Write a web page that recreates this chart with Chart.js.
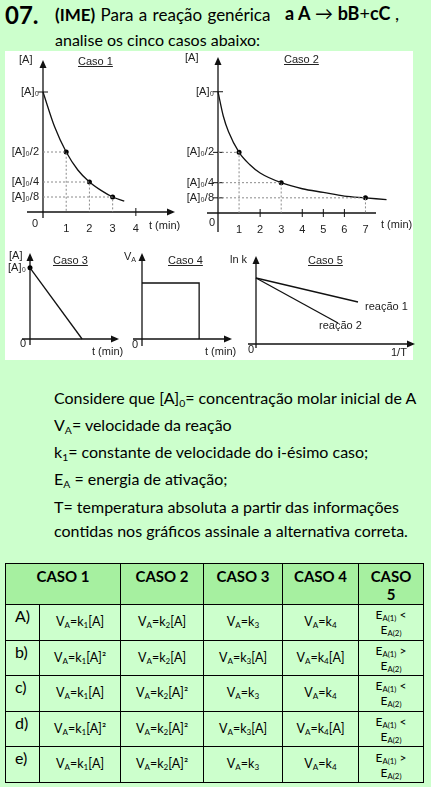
<!DOCTYPE html>
<html lang="pt">
<head>
<meta charset="UTF-8">
<title>Questão 07 (IME) - cinética química</title>
<script src="https://cdn.jsdelivr.net/npm/chart.js"></script>
<style>
  body { margin: 0; background: #ccffcc; font-family: 'Lato', sans-serif; color: #000; }
  #pagina { position: relative; width: 431px; height: 787px; overflow: hidden; }
  .abs { position: absolute; white-space: nowrap; line-height: 1; }
  #scan { position: absolute; left: 5px; top: 51px; width: 408px; height: 309px; background: #fff; }
  .lbl { position: absolute; white-space: nowrap; line-height: 1; font-family: 'Liberation Sans', Arial, sans-serif; font-size: 11px; color: #222; }
  .caso { text-decoration: underline; }
  canvas { position: absolute; }
  sub { font-size: 0.65em; vertical-align: -0.3em; line-height: 0; }
  .txt { position: absolute; left: 54px; font-size: 16px; white-space: nowrap; line-height: 1; }
  #tabela { position: absolute; left: 5px; top: 563px; width: 418px; border-collapse: collapse; table-layout: fixed; }
  #tabela th, #tabela td { border: 1px solid #000; padding: 0; text-align: center; }
  #tabela tr.cab { height: 41px; }
  #tabela tr.lin { height: 35.6px; }
  #tabela th { background: #a6f0a0; font-size: 15px; font-weight: bold; vertical-align: top; padding-top: 3px; line-height: 18px; }
  #tabela td { font-size: 12.5px; vertical-align: middle; line-height: 1; }
  #tabela td.alt { font-size: 16px; text-align: left; padding-left: 9px; vertical-align: top; padding-top: 3px; }
  #tabela td.ea { font-size: 12px; line-height: 15px; }
</style>
</head>
<body>
<div id="pagina">
  <div class="abs" style="left:5px; top:3px; font-size:24px; font-weight:bold;">07.</div>
  <div class="abs" style="left:55px; top:6px; font-size:17px; word-spacing:1px;"><b>(IME)</b> Para a reação genérica</div>
  <div class="abs" style="left:285px; top:4px; font-size:18px;"><b>a A</b> → <b>bB</b>+<b>cC</b> ,</div>
  <div class="abs" style="left:55px; top:32px; font-size:16px;">analise os cinco casos abaixo:</div>

  <div id="scan"></div>
  <canvas id="caso1"></canvas>
  <canvas id="caso2"></canvas>
  <canvas id="caso3"></canvas>
  <canvas id="caso4"></canvas>
  <canvas id="caso5"></canvas>

  <!-- rótulos dos gráficos -->
  <div class="lbl" style="left:19px; top:54px;">[A]</div>
  <div class="lbl caso" style="left:78px; top:56px;">Caso 1</div>
  <div class="lbl" style="left:32px; top:218px;">0</div>
  <div class="lbl" style="left:149px; top:220px;">t (min)</div>

  <div class="lbl" style="left:185px; top:52px;">[A]</div>
  <div class="lbl caso" style="left:284px; top:54px;">Caso 2</div>
  <div class="lbl" style="left:209px; top:217px;">0</div>
  <div class="lbl" style="left:381px; top:219px;">t (min)</div>

  <div class="lbl" style="left:9px; top:250px;">[A]</div>
  <div class="lbl caso" style="left:53px; top:255px;">Caso 3</div>
  <div class="lbl" style="left:20px; top:338px;">0</div>
  <div class="lbl" style="left:92px; top:346px;">t (min)</div>

  <div class="lbl" style="left:124px; top:251px;">V<sub>A</sub></div>
  <div class="lbl caso" style="left:168px; top:255px;">Caso 4</div>
  <div class="lbl" style="left:132px; top:339px;">0</div>
  <div class="lbl" style="left:205px; top:346px;">t (min)</div>

  <div class="lbl" style="left:230px; top:254px;">ln k</div>
  <div class="lbl caso" style="left:308px; top:255px;">Caso 5</div>
  <div class="lbl" style="left:248px; top:344px;">0</div>
  <div class="lbl" style="left:391px; top:347px;">1/T</div>
  <div class="lbl" style="left:365px; top:301px;">reação 1</div>
  <div class="lbl" style="left:319px; top:320px;">reação 2</div>

  <div class="txt" style="top:390px;">Considere que [A]<sub>0</sub>= concentração molar inicial de A</div>
  <div class="txt" style="top:417px;">V<sub>A</sub>= velocidade da reação</div>
  <div class="txt" style="top:444px;">k<sub>1</sub>= constante de velocidade do i-ésimo caso;</div>
  <div class="txt" style="top:471px;">E<sub>A</sub> = energia de ativação;</div>
  <div class="txt" style="top:499px;">T= temperatura absoluta a partir das informações</div>
  <div class="txt" style="top:523px;">contidas nos gráficos assinale a alternativa correta.</div>

  <table id="tabela">
    <colgroup><col style="width:34px"><col style="width:81px"><col style="width:83px"><col style="width:79px"><col style="width:76px"><col style="width:65px"></colgroup>
    <tr class="cab"><th colspan="2">CASO 1</th><th>CASO 2</th><th>CASO 3</th><th>CASO 4</th><th>CASO<br>5</th></tr>
    <tr class="lin"><td class="alt">A)</td><td>V<sub>A</sub>=k<sub>1</sub>[A]</td><td>V<sub>A</sub>=k<sub>2</sub>[A]</td><td>V<sub>A</sub>=k<sub>3</sub></td><td>V<sub>A</sub>=k<sub>4</sub></td><td class="ea">E<sub>A(1)</sub> &lt;<br>E<sub>A(2)</sub></td></tr>
    <tr class="lin"><td class="alt">b)</td><td>V<sub>A</sub>=k<sub>1</sub>[A]²</td><td>V<sub>A</sub>=k<sub>2</sub>[A]</td><td>V<sub>A</sub>=k<sub>3</sub>[A]</td><td>V<sub>A</sub>=k<sub>4</sub>[A]</td><td class="ea">E<sub>A(1)</sub> &gt;<br>E<sub>A(2)</sub></td></tr>
    <tr class="lin"><td class="alt">c)</td><td>V<sub>A</sub>=k<sub>1</sub>[A]</td><td>V<sub>A</sub>=k<sub>2</sub>[A]²</td><td>V<sub>A</sub>=k<sub>3</sub></td><td>V<sub>A</sub>=k<sub>4</sub></td><td class="ea">E<sub>A(1)</sub> &lt;<br>E<sub>A(2)</sub></td></tr>
    <tr class="lin"><td class="alt">d)</td><td>V<sub>A</sub>=k<sub>1</sub>[A]²</td><td>V<sub>A</sub>=k<sub>2</sub>[A]²</td><td>V<sub>A</sub>=k<sub>3</sub>[A]</td><td>V<sub>A</sub>=k<sub>4</sub>[A]</td><td class="ea">E<sub>A(1)</sub> &lt;<br>E<sub>A(2)</sub></td></tr>
    <tr class="lin"><td class="alt">e)</td><td>V<sub>A</sub>=k<sub>1</sub>[A]</td><td>V<sub>A</sub>=k<sub>2</sub>[A]²</td><td>V<sub>A</sub>=k<sub>3</sub></td><td>V<sub>A</sub>=k<sub>4</sub></td><td class="ea">E<sub>A(1)</sub> &gt;<br>E<sub>A(2)</sub></td></tr>
  </table>
</div>

<script>
// Caso 1: primeira ordem (meia-vida constante)
const caso1Tempo = [0, 0.5, 1, 1.5, 2, 2.5, 3, 3.5];
const caso1Conc = [1, 0.71, 0.5, 0.35, 0.25, 0.18, 0.125, 0.09];
const caso1Marcados = [1, 2, 3];
const caso1TicksX = [1, 2, 3, 4];

// Caso 2: segunda ordem (meia-vida dobra)
const caso2Tempo = [0, 0.25, 0.5, 1, 1.5, 2, 3, 4, 5, 6, 7, 8];
const caso2Conc = [1, 0.8, 0.67, 0.5, 0.4, 0.33, 0.25, 0.2, 0.17, 0.14, 0.125, 0.11];
const caso2Marcados = [1, 3, 7];
const caso2TicksX = [1, 2, 3, 4, 5, 6, 7];

const ticksConc = [1, 0.5, 0.25, 0.125];
const rotulosConc = ['[A]₀', '[A]₀/2', '[A]₀/4', '[A]₀/8'];

// Caso 3: ordem zero
const caso3Tempo = [0, 1];
const caso3Conc = [1, 0];

// Caso 4: velocidade constante
const caso4Tempo = [0, 1, 1];
const caso4Vel = [1, 1, 0];

// Caso 5: ln k x 1/T
const caso5InvT1 = [0, 1.02];
const caso5LnK1 = [0.66, 0.42];
const caso5InvT2 = [0, 0.82];
const caso5LnK2 = [0.66, 0.21];

const pontos = (xs, ys) => xs.map((x, i) => ({ x: x, y: ys[i] }));
const fonteTick = { family: "'Liberation Sans', Arial, sans-serif", size: 11 };

// eixos com seta e marcas cruzando o eixo
const eixosPlugin = {
  id: 'eixos',
  beforeDatasetsDraw(chart, args, o) {
    const { ctx, chartArea: a, scales: { x, y } } = chart;
    const x0 = x.getPixelForValue(0), y0 = y.getPixelForValue(0);
    ctx.save();
    ctx.strokeStyle = '#111';
    ctx.fillStyle = '#111';
    ctx.lineWidth = 1.3;
    const linha = (x1, y1, x2, y2) => { ctx.beginPath(); ctx.moveTo(x1, y1); ctx.lineTo(x2, y2); ctx.stroke(); };
    linha(a.left - o.extX, y0, a.right, y0);
    linha(x0, a.bottom + o.extY, x0, a.top);
    if (o.setaX) {
      ctx.beginPath(); ctx.moveTo(a.right + 2, y0); ctx.lineTo(a.right - 6, y0 - 3.5); ctx.lineTo(a.right - 6, y0 + 3.5); ctx.fill();
    }
    if (o.setaY) {
      ctx.beginPath(); ctx.moveTo(x0, a.top - 2); ctx.lineTo(x0 - 3.5, a.top + 6); ctx.lineTo(x0 + 3.5, a.top + 6); ctx.fill();
    }
    ctx.lineWidth = 1;
    (o.marcasX || []).forEach(v => { const px = x.getPixelForValue(v); linha(px, y0 - 4, px, y0 + 4); });
    (o.marcasY || []).forEach(v => { const py = y.getPixelForValue(v); linha(x0 - 5, py, x0 + 5, py); });
    ctx.restore();
  }
};

function guias(ts, tempos, concs) {
  return ts.map(t => {
    const c = concs[tempos.indexOf(t)];
    return {
      data: [{ x: 0, y: c }, { x: t, y: c }, { x: t, y: 0 }],
      showLine: true, borderColor: '#8a8a8a', borderWidth: 1, borderDash: [2, 2],
      pointRadius: 0, clip: false
    };
  });
}

function marcados(ts, tempos, concs) {
  return {
    data: ts.map(t => ({ x: t, y: concs[tempos.indexOf(t)] })),
    showLine: false, pointRadius: 2.5, pointBackgroundColor: '#000', pointBorderWidth: 0, clip: false
  };
}

function curva(dados, tension) {
  return {
    data: dados, showLine: true, borderColor: '#111', borderWidth: 1.3,
    pointRadius: 0, cubicInterpolationMode: tension ? 'monotone' : 'default', clip: false
  };
}

function grafico(id, area, cfg) {
  const L = 46, R = 14, T = 12, B = 26;
  const cv = document.getElementById(id);
  cv.width = area.w + L + R;
  cv.height = area.h + T + B;
  cv.style.left = (area.left - L) + 'px';
  cv.style.top = (area.bottom - area.h - T) + 'px';
  return new Chart(cv, {
    type: 'scatter',
    data: { datasets: cfg.datasets },
    options: {
      responsive: false,
      animation: false,
      events: [],
      layout: { padding: { top: T, right: R, left: 0, bottom: 0 } },
      plugins: { legend: { display: false }, tooltip: { enabled: false }, eixos: cfg.eixos },
      scales: {
        x: {
          type: 'linear', min: 0, max: cfg.xMax,
          grid: { display: false, drawTicks: false }, border: { display: false },
          afterFit: s => { s.height = B; },
          afterBuildTicks: s => { s.ticks = (cfg.ticksX || []).map(v => ({ value: v })); },
          ticks: { display: !!cfg.ticksX, autoSkip: false, maxRotation: 0, padding: 10, color: '#222', font: fonteTick,
                   callback: v => String(v) }
        },
        y: {
          type: 'linear', min: 0, max: cfg.yMax,
          grid: { display: false, drawTicks: false }, border: { display: false },
          afterFit: s => { s.width = L; },
          afterBuildTicks: s => { s.ticks = (cfg.ticksY || []).map(v => ({ value: v })); },
          ticks: { display: !!cfg.ticksY, autoSkip: false, padding: 4, color: '#222', font: fonteTick,
                   callback: (v, i) => cfg.rotulosY[i] }
        }
      }
    },
    plugins: [eixosPlugin]
  });
}

grafico('caso1', { left: 43, bottom: 212, w: 130, h: 150 }, {
  xMax: 5.6, yMax: 1.25, ticksX: caso1TicksX, ticksY: ticksConc, rotulosY: rotulosConc,
  eixos: { extX: 16, extY: 6, setaX: true, setaY: true, marcasX: [4], marcasY: [1] },
  datasets: [...guias(caso1Marcados, caso1Tempo, caso1Conc), curva(pontos(caso1Tempo, caso1Conc), true),
             marcados(caso1Marcados, caso1Tempo, caso1Conc)]
});

grafico('caso2', { left: 218, bottom: 213, w: 158, h: 154 }, {
  xMax: 7.5, yMax: 1.27, ticksX: caso2TicksX, ticksY: ticksConc, rotulosY: rotulosConc,
  eixos: { extX: 11, extY: 19, setaX: false, setaY: true, marcasX: [2, 4, 5, 6], marcasY: [1, 0.5, 0.25, 0.125] },
  datasets: [...guias(caso2Marcados, caso2Tempo, caso2Conc), curva(pontos(caso2Tempo, caso2Conc), true),
             marcados(caso2Marcados, caso2Tempo, caso2Conc)]
});

grafico('caso3', { left: 30, bottom: 339, w: 87, h: 84 }, {
  xMax: 1.67, yMax: 1.18, ticksY: [1], rotulosY: ['[A]₀'],
  eixos: { extX: 8, extY: 6, setaX: true, setaY: true },
  datasets: [curva(pontos(caso3Tempo, caso3Conc), false),
             { data: [{ x: caso3Tempo[0], y: caso3Conc[0] }], showLine: false, pointRadius: 2.5, pointBackgroundColor: '#000', pointBorderWidth: 0, clip: false }]
});

grafico('caso4', { left: 142, bottom: 339, w: 88, h: 84 }, {
  xMax: 1.54, yMax: 1.5,
  eixos: { extX: 9, extY: 7, setaX: true, setaY: true },
  datasets: [curva(pontos(caso4Tempo, caso4Vel), false)]
});

grafico('caso5', { left: 256, bottom: 344, w: 157, h: 86 }, {
  xMax: 1.57, yMax: 0.86,
  eixos: { extX: 8, extY: 4, setaX: true, setaY: true },
  datasets: [curva(pontos(caso5InvT1, caso5LnK1), false), curva(pontos(caso5InvT2, caso5LnK2), false)]
});
</script>
</body>
</html>
